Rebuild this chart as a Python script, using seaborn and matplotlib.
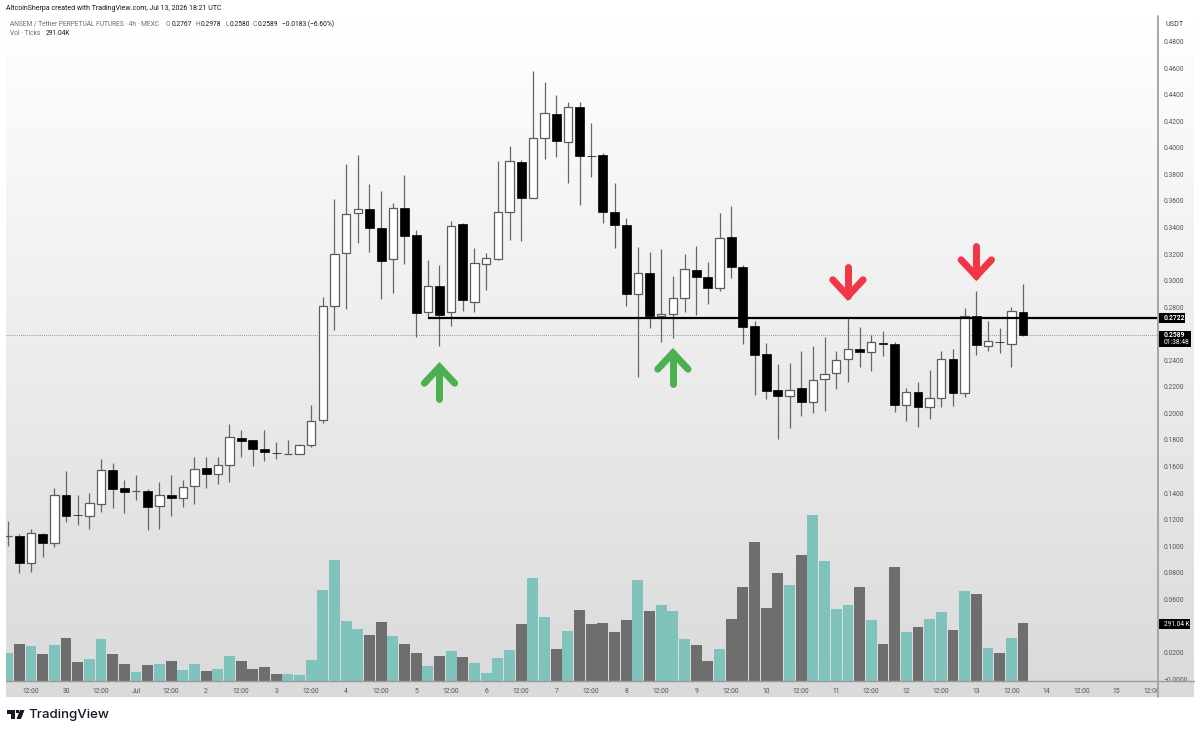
import numpy as np
import pandas as pd
import matplotlib
matplotlib.use("Agg")
import matplotlib.pyplot as plt
import seaborn as sns
from matplotlib.colors import LinearSegmentedColormap
from matplotlib.lines import Line2D
from matplotlib.patches import FancyBboxPatch, Polygon, Rectangle
from matplotlib.transforms import Bbox

# --- 4h candles, ANSEM/USDT perp
opens = [.1076,.1077,.0873,.1092,.1024,.1386,.1236,.1227,.1318,.1574,.1438,.1414,.1416,.1303,.1386,.1363,.1453,.1589,.1544,.1611,.1815,.1800,.1732,.1702,
         .1694,.1694,.1762,.1950,.2809,.3208,.3509,.3539,.3396,.3163,.3547,.3343,.2764,.2959,.2764,.3426,.2839,.3125,.3163,.3517,.3893,.3622,.4074,.4254,
         .4044,.4307,.3940,.3946,.3517,.3419,.2899,.3057,.2737,.2748,.2869,.3080,.3027,.2944,.3328,.3102,.2658,.2447,.2176,.2131,.2191,.2086,.2259,.2304,
         .2410,.2485,.2462,.2527,.2523,.2063,.2161,.2048,.2116,.2410,.2154,.2733,.2507,.2540,.2523,.2767]
highs = [.1190,.1092,.1130,.1099,.1438,.1566,.1386,.1401,.1657,.1626,.1498,.1536,.1431,.1483,.1536,.1498,.1672,.1672,.1672,.1920,.1875,.1800,.1875,.1785,
         .1800,.1770,.2063,.2876,.3614,.3878,.3946,.3727,.3675,.3584,.3795,.3381,.3155,.3117,.3449,.3434,.3245,.3208,.3901,.4013,.3908,.4578,.4495,.4398,
         .4345,.4345,.4187,.3961,.3735,.3471,.3253,.3215,.3238,.3035,.3200,.3260,.3140,.3509,.3562,.3117,.2696,.2530,.2372,.2379,.2470,.2507,.2575,.2470,
         .2718,.2651,.2590,.2620,.2538,.2191,.2236,.2327,.2470,.2485,.2794,.2922,.2696,.2643,.2801,.2978]
lows = [.1001,.0798,.0806,.0919,.0994,.1182,.1160,.1130,.1258,.1288,.1250,.1348,.1122,.1130,.1227,.1295,.1318,.1438,.1468,.1483,.1672,.1604,.1642,.1657,
        .1694,.1694,.1747,.1928,.2628,.2786,.3283,.3215,.2861,.2907,.3125,.2575,.2718,.2507,.2658,.2771,.2764,.2929,.3155,.3306,.3298,.3622,.3916,.3931,
        .3735,.3569,.3780,.3434,.3245,.2809,.2274,.2643,.2538,.2568,.2764,.2741,.2824,.2922,.3020,.2523,.2139,.2108,.1807,.1890,.1980,.2003,.2018,.2184,
        .2236,.2349,.2319,.2432,.2011,.1943,.1898,.1958,.2048,.2056,.2123,.2440,.2470,.2455,.2349,.2580]
closes = [.1078,.0873,.1099,.1024,.1386,.1227,.1233,.1325,.1574,.1431,.1408,.1417,.1295,.1386,.1363,.1446,.1581,.1544,.1611,.1822,.1792,.1732,.1709,.1699,
          .1697,.1762,.1943,.2811,.3200,.3501,.3539,.3396,.3148,.3547,.3336,.2756,.2959,.2741,.3411,.2854,.3132,.3170,.3517,.3901,.3622,.4074,.4262,.4051,
          .4307,.3938,.3936,.3517,.3419,.2899,.3057,.2733,.2745,.2869,.3087,.3027,.2944,.3321,.3102,.2651,.2440,.2169,.2131,.2176,.2086,.2251,.2297,.2402,
          .2485,.2462,.2538,.2523,.2063,.2161,.2048,.2116,.2410,.2154,.2733,.2515,.2545,.2536,.2771,.2589]
# volume in thousands of ticks
volumes = [142,190,180,137,183,217,98,113,212,138,87,47,83,90,103,60,87,55,62,127,103,63,73,38,
           38,35,110,457,608,305,262,233,297,230,190,142,80,130,155,123,95,43,118,160,290,520,325,162,
           255,360,287,292,247,307,507,353,383,353,213,182,102,163,313,473,697,368,545,483,632,833,603,365,
           383,472,308,187,575,250,272,313,348,258,453,437,168,145,218,291.04]

x_tick_pos = [2,5,8,11,14,17,20,23,26,29,32,35,38,41,44,47,50,53,56,59,62,65,68,71,74,77,80,83,86,89,92,95,98]
x_tick_labels = ["12:00","30","12:00","Jul","12:00","2","12:00","3","12:00","4","12:00","5","12:00","6","12:00","7",
                 "12:00","8","12:00","9","12:00","10","12:00","11","12:00","12","12:00","13","12:00","14","12:00","15","12:00"]
# 0.04 and 0.26 sit behind the volume and last price tags
price_ticks = [0.00,0.02,0.06,0.08,0.10,0.12,0.14,0.16,0.18,0.20,0.22,0.24,0.28,0.30,0.32,0.34,0.36,0.38,0.40,0.42,0.44,0.46,0.48]

level_price = 0.2722
level_start = 36
last_price = 0.2589
# arrows: candle index, tail price, tip price
up_arrows = [(37, .2108, .2349), (57, .2221, .2455)]
down_arrows = [(72, .3103, .2884), (83, .3261, .3034)]

W, H = 1200, 732
TEAL = "#80c3bc"
GREY = "#6e6e6e"
TXT = "#555555"
DARK = "#131722"

sns.set_theme(style="white")
plt.rcParams["font.family"] = ["Roboto", "DejaVu Sans"]

fig = plt.figure(figsize=(W/100, H/100), dpi=100, facecolor="white")

def fx(px): return px/W
def fy(py): return 1 - py/H

def ftext(px, py, s, color=TXT, size=4.9, **kw):
    kw.setdefault("va", "center")
    fig.text(fx(px), fy(py), s, color=color, fontsize=size, **kw)

def frect(x0, y0, x1, y1, color, z=5):
    fig.add_artist(Rectangle((fx(x0), fy(y1)), fx(x1)-fx(x0), fy(y0)-fy(y1),
                             transform=fig.transFigure, fc=color, ec="none", zorder=z))

# pane background
bg = fig.add_axes([fx(6), fy(697), fx(1194)-fx(6), fy(16)-fy(697)], zorder=0)
cmap = LinearSegmentedColormap.from_list("pane", ["#ffffff", "#dadada"])
bg.imshow(np.linspace(0, 1, 256).reshape(-1, 1), aspect="auto", cmap=cmap, vmin=0, vmax=1)
bg.axis("off")

# price pane
ax = fig.add_axes([fx(6), fy(681.7), fx(1158)-fx(6), fy(16)-fy(681.7)], zorder=2)
ax.patch.set_alpha(0)
idx = np.arange(len(closes))
df = pd.DataFrame({"idx": idx, "open": opens, "high": highs, "low": lows, "close": closes, "vol": volumes})
df["dir"] = np.where(df["close"] >= df["open"], "up", "down")

# volume on its own scale, under the candles
axv = fig.add_axes(ax.get_position(), zorder=1)
axv.patch.set_alpha(0)
sns.barplot(data=df, x="idx", y="vol", hue="dir", palette={"up": TEAL, "down": GREY},
            dodge=False, width=0.93, legend=False, ax=axv, saturation=1, linewidth=0)
axv.set_xlim(-0.146, 98.57)
axv.set_ylim(0, 3328)
axv.axis("off")

up = df[df["dir"] == "up"]
down = df[df["dir"] == "down"]
ax.vlines(df["idx"], df["low"], df["high"], color="#666666", lw=0.9, zorder=3)
ax.bar(up["idx"], up["close"]-up["open"], bottom=up["open"], width=0.72,
       fc="white", ec="#5c5c5c", lw=0.9, zorder=4)
ax.bar(down["idx"], down["close"]-down["open"], bottom=down["open"], width=0.76,
       fc="black", ec="black", lw=0.5, zorder=4)

ax.axhline(last_price, color="#777777", lw=0.6, ls=(0, (1, 1.5)), zorder=2)
ax.plot([level_start, 98.57], [level_price, level_price], color="black", lw=1.6, zorder=5,
        solid_capstyle="butt")

def draw_arrow(i, tail, tip, color):
    sign = 1 if tip > tail else -1
    ax.plot([i, i], [tail, tip], color=color, lw=5, solid_capstyle="round", zorder=6)
    ax.plot([i-1.3, i, i+1.3], [tip-sign*0.0122, tip, tip-sign*0.0122], color=color, lw=5,
            solid_capstyle="round", solid_joinstyle="miter", zorder=6)

for a in up_arrows:
    draw_arrow(a[0], a[1], a[2], "#4caf50")
for a in down_arrows:
    draw_arrow(a[0], a[1], a[2], "#f23645")

ax.set_xlim(-0.146, 98.57)
ax.set_ylim(-0.0020, 0.4992)
ax.set_xticks(x_tick_pos, x_tick_labels)
ax.set_yticks(price_ticks, ["−0.0000"] + [f"{p:.4f}" for p in price_ticks[1:]])
ax.yaxis.tick_right()
ax.tick_params(axis="x", length=0, pad=4.8, labelsize=4.9, labelcolor=TXT)
ax.tick_params(axis="y", length=0, pad=4.3, labelsize=4.9, labelcolor=TXT)
for s in ax.spines.values():
    s.set_visible(False)
# last 12:00 label runs under the price scale
last_lab = ax.get_xticklabels()[-1]
last_lab.set_clip_box(Bbox([[0, 0], [1158, H]]))
last_lab.set_clip_on(True)

# scale lines
fig.add_artist(Line2D([fx(6), fx(1194)], [fy(681.3), fy(681.3)], color="#9a9a9a", lw=1.0, zorder=4))
fig.add_artist(Line2D([fx(1158), fx(1158)], [fy(16), fy(697)], color="#a6a6a6", lw=1.4, zorder=4))

# price tags
frect(1159, 313, 1185, 322.5, "black")
ftext(1164, 317.8, "0.2722", color="white", zorder=6, fontweight="bold")
frect(1159, 331, 1191, 347, "black")
ftext(1164, 335.5, "0.2589", color="white", zorder=6, fontweight="bold")
ftext(1164, 342.5, "01:38:48", color="white", zorder=6)
frect(1159, 619, 1190, 629, "black")
ftext(1163.5, 624, "291.04 K", color="white", size=4.7, zorder=6)

# USDT box
fig.add_artist(FancyBboxPatch((fx(1162), fy(31)), fx(30), fy(17)-fy(31), transform=fig.transFigure,
                              boxstyle="round,pad=0,rounding_size=0.002", fc="white", ec="none", zorder=3))
ftext(1166, 25, "USDT", color="#444444", size=5.2, zorder=6)

# header + legend lines
ftext(6, 8.5, "AltcoinSherpa created with TradingView.com, Jul 13, 2026 18:21 UTC", color=DARK, size=5.0)
ftext(10, 24, "ANSEM / Tether PERPETUAL FUTURES · 4h · MEXC", color="#6a6d78", size=4.8)
for px, off, lab, val in [(166, 5.2, "O", "0.2767"), (195.5, 5.0, "H", "0.2978"), (225, 4.2, "L", "0.2580"), (253, 4.8, "C", "0.2589")]:
    ftext(px, 24, lab, color="#6a6d78", size=4.8)
    ftext(px+off, 24, val, color=DARK, size=4.8)
ftext(282, 24, "−0.0183 (−6.60%)", color=DARK, size=4.8)
ftext(10, 33.5, "Vol · Ticks", color="#6a6d78", size=4.8)
ftext(46, 33.5, "291.04K", color=DARK, size=4.8)

# TradingView logo
to_fig = lambda pts: [(fx(a), fy(b)) for a, b in pts]
fig.add_artist(Polygon(to_fig([(7, 710), (15, 710), (15, 719), (11, 719), (11, 713.5), (7, 713.5)]),
                       transform=fig.transFigure, fc=DARK, ec="none"))
fig.add_artist(Polygon(to_fig([(20, 710), (24.5, 710), (21, 719), (16.5, 719)]),
                       transform=fig.transFigure, fc=DARK, ec="none"))
fig.add_artist(Polygon(to_fig([(15.8, 710), (18.6, 710), (18.6, 713), (15.8, 713)]),
                       transform=fig.transFigure, fc=DARK, ec="none"))
ftext(28.5, 714.6, "TradingView", color=DARK, size=9.6, family="Inter", fontweight="medium")

fig.savefig("out.png", dpi=100, facecolor="white")
